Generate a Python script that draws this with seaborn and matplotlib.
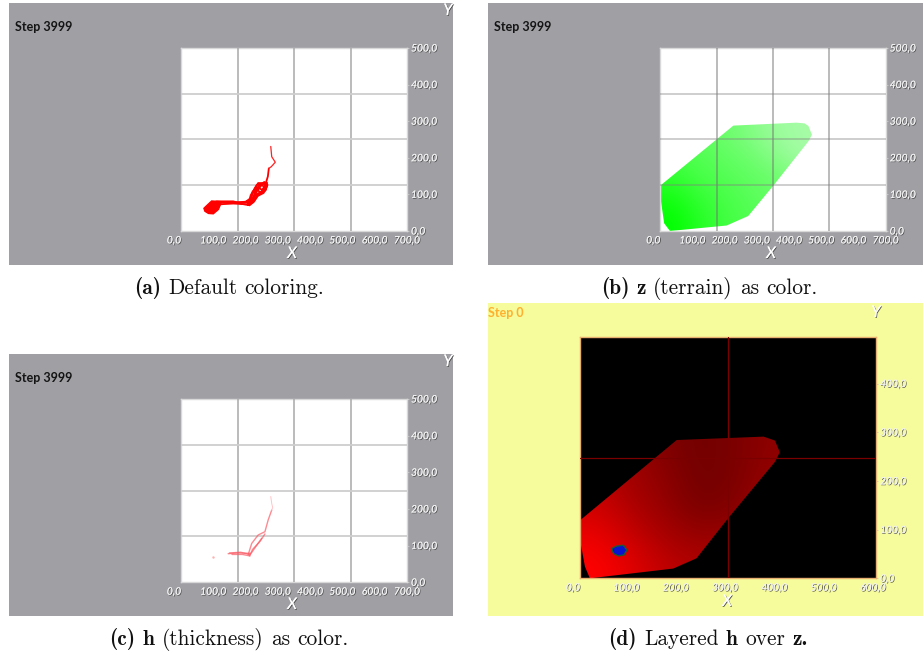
import matplotlib as mpl
mpl.use('Agg')
import matplotlib.pyplot as plt
import matplotlib.patheffects as pe
from matplotlib.transforms import ScaledTranslation
import numpy as np
import pandas as pd
import seaborn as sns

W, H = 923, 656

x_ticks_700 = [0, 100, 200, 300, 400, 500, 600, 700]
y_ticks_500 = [0, 100, 200, 300, 400, 500]
x_ticks_600 = [0, 100, 200, 300, 400, 500, 600]
y_ticks_400 = [0, 100, 200, 300, 400]
grid_x = [175, 350, 525]
grid_y = [125, 250, 375]
cross_x = [300]
cross_y = [247]

# lava flow strands, panel (a)
flow_a = {
    'main': ([272, 269, 261, 255, 240, 224, 214, 198, 162, 121, 100, 85],
             [171, 149, 126, 112, 103, 94, 80, 78, 78, 78, 78, 62]),
    'loop': ([209, 216, 235, 255, 266, 261, 240, 224, 209, 188, 162, 111, 92],
             [76, 98, 126, 130, 121, 110, 101, 85, 71, 74, 81, 81, 76]),
    'side': ([100, 162, 204, 224, 230, 245, 266, 262, 246, 232],
             [72, 75, 73, 87, 112, 126, 132, 112, 104, 118]),
    'side2': ([106, 150, 200, 217, 222, 240, 252, 262],
              [79, 77, 80, 90, 108, 118, 112, 128]),
    'side3': ([205, 222, 228, 240, 258, 268, 256, 238, 226, 212],
              [82, 84, 100, 122, 134, 126, 104, 96, 80, 70]),
    'outer': ([208, 229, 239, 266, 263, 238, 223, 208],
              [71, 117, 131, 131, 115, 98, 79, 71]),
    'inner': ([223, 236, 250, 258, 250, 236],
              [84, 110, 126, 120, 108, 96]),
}
flow_a_tip_x = [278, 281, 292, 280, 272]
flow_a_tip_y = [231, 203, 188, 176, 171]
blob_a_x = [71, 78, 95, 125, 122, 116, 100, 85, 74]
blob_a_y = [62, 68, 82, 80, 72, 59, 47, 48, 54]

# thickness strands, panel (c)
flow_c = {
    'main': ([281, 270, 260, 239, 219, 208], [197, 170, 138, 129, 106, 75]),
    'band1': ([146, 175, 214], [78, 80, 79]),
    'band2': ([158, 190, 214], [76, 76, 72]),
    'band3': ([150, 185, 212], [80, 82, 76]),
    'loop': ([250, 229, 214], [120, 94, 75]),
    'loop2': ([260, 245, 222, 212], [132, 112, 90, 72]),
}
flow_c_tip_x = [278, 281, 284, 281]
flow_c_tip_y = [234, 215, 204, 197]
dot_c_x = [100]
dot_c_y = [68]

# terrain outline and shading, panel (b)
terrain_x = [0, 227, 423, 448, 460, 471, 460, 351, 273, 206, 30, 12, 0]
terrain_y = [124, 288, 296, 294, 287, 263, 245, 124, 41, 15, 0, 21, 94]
terrain_shade = [
    [0.00, 0.22, 0.40, 0.50, 0.60, 0.70],
    [0.12, 0.32, 0.45, 0.55, 0.62, 0.75],
    [0.30, 0.45, 0.52, 0.60, 0.66, 0.82],
    [0.45, 0.52, 0.60, 0.68, 0.85, 1.00],
    [0.55, 0.58, 0.66, 0.80, 0.95, 1.00],
]

# outline and shading, panel (d)
layered_x = [0, 196, 372, 395, 405, 395, 300, 236, 189, 20, 10, 0]
layered_y = [119, 284, 291, 283, 259, 239, 123, 41, 20, 0, 24, 79]
layered_shade = [
    [0.00, 0.18, 0.40, 0.50, 0.50, 0.40],
    [0.12, 0.35, 0.55, 0.70, 0.65, 0.50],
    [0.30, 0.50, 0.70, 0.90, 0.85, 0.60],
    [0.40, 0.60, 0.75, 0.95, 0.90, 0.70],
    [0.45, 0.65, 0.85, 0.95, 0.90, 0.75],
]
blue_x = [64, 74, 88, 95, 89, 78, 68]
blue_y = [61, 66, 68, 58, 48, 46, 51]

# caption words as (word, bold)
cap_a = [('(a)', True), ('Default', False), ('coloring.', False)]
cap_b = [('(b)', True), ('z', True), ('(terrain)', False), ('as', False), ('color.', False)]
cap_c = [('(c)', True), ('h', True), ('(thickness)', False), ('as', False), ('color.', False)]
cap_d = [('(d)', True), ('Layered', False), ('h', True), ('over', False), ('z.', True)]

GRAY = '#a09fa4'
YELLOW = '#f6fb9b'

sns.set_theme(style='white')
plt.rcParams['font.family'] = ['Lato', 'DejaVu Sans']

fig = plt.figure(figsize=(W / 100, H / 100), dpi=100, facecolor='white')


def px_axes(x0, y0, x1, y1, **kw):
    return fig.add_axes([x0 / W, 1 - y1 / H, (x1 - x0) / W, (y1 - y0) / H], **kw)


def px_text(x, y, s, **kw):
    return fig.text(x / W, 1 - y / H, s, **kw)


def caption(words, xc, y, size=15.4, gap=7.2):
    parts = [px_text(0, y, w, fontsize=size, family='cmb10' if b else 'cmr10', color='#111111', va='baseline')
             for w, b in words]
    rend = fig.canvas.get_renderer()
    widths = [p.get_window_extent(rend).width for p in parts]
    x = xc - (sum(widths) + gap * (len(parts) - 1)) / 2
    for p, w in zip(parts, widths):
        p.set_x(x / W)
        x += w + gap


shadow = [pe.withSimplePatchShadow(offset=(0.6, -0.6), shadow_rgbFace=(0.25, 0.25, 0.25), alpha=0.85), pe.Normal()]


def panel(box, plot, xticks, yticks, bg, step, step_col, x_pos, y_pos=None, facecolor='white', border='#d8d8d8', shift=0):
    back = px_axes(*box, facecolor=bg)
    back.set_xticks([])
    back.set_yticks([])
    sns.despine(ax=back, left=True, bottom=True)

    ax = px_axes(*plot, facecolor=facecolor)
    ax.set_xlim(xticks[0], xticks[-1])
    ax.set_xticks(xticks)
    ax.set_xticklabels([f'{v},0' for v in xticks], fontsize=7.4, style='italic', color='#f2f2f2')
    ax.yaxis.tick_right()
    ax.set_yticks(yticks)
    ax.set_yticklabels([f'{v},0' for v in yticks], fontsize=7.4, style='italic', color='#f2f2f2')
    ax.tick_params(axis='x', length=1.5, width=0.6, color='#c8c8c8', pad=2.4)
    ax.tick_params(axis='y', length=1.5, width=0.6, color='#c8c8c8', pad=1.4)
    for lab in ax.get_xticklabels() + ax.get_yticklabels():
        lab.set_path_effects(shadow)
    for i, lab in enumerate(ax.get_xticklabels()):
        dx = -7 if i == 0 else shift
        lab.set_transform(lab.get_transform() + ScaledTranslation(dx / 100, 0, fig.dpi_scale_trans))
    for s in ax.spines.values():
        s.set_visible(True)
        s.set_color(border)
        s.set_linewidth(1.0)

    px_text(box[0] + (6 if bg == GRAY else 0), step[0], step[1], fontsize=step[2], fontweight='bold',
            color=step_col, va='center', ha='left')
    px_text(x_pos[0], x_pos[1], 'X', fontsize=11.5, style='italic', color='white', ha='center', va='center',
            path_effects=shadow)
    if y_pos is not None:
        px_text(y_pos[0], y_pos[1], 'Y', fontsize=11.5, style='italic', color='white', ha='center', va='center',
                path_effects=shadow)
    return ax


def grid_lines(ax, xs, ys, color, lw=1.0, alpha=1.0):
    for v in xs:
        ax.axvline(v, color=color, lw=lw, alpha=alpha, zorder=5)
    for v in ys:
        ax.axhline(v, color=color, lw=lw, alpha=alpha, zorder=5)


def strands(ax, flows, color, lw, alpha):
    for name, (xs, ys) in flows.items():
        df = pd.DataFrame({'x': xs, 'y': ys})
        sns.lineplot(data=df, x='x', y='y', sort=False, estimator=None, color=color, lw=lw, alpha=alpha, ax=ax,
                     zorder=6)
    ax.set_xlabel('')
    ax.set_ylabel('')


def shaded_poly(ax, xs, ys, shade, cmap, extent):
    im = ax.imshow(np.array(shade), cmap=cmap, vmin=0, vmax=1, origin='lower', extent=extent,
                   interpolation='bicubic', aspect='auto', zorder=2)
    poly = ax.fill(xs, ys, facecolor='none', edgecolor='none', zorder=1)[0]
    im.set_clip_path(poly)


# (a) default coloring
ax = panel((9, 3, 453, 265), (181, 48, 407, 231), x_ticks_700, y_ticks_500, GRAY,
           (27, 'Step 3999', 9), '#141414', (292, 254), (448, 11))
grid_lines(ax, grid_x, [], '#a8a8a8', lw=1.1)
grid_lines(ax, [], grid_y, '#cecece', lw=1.3)
ax.fill(blob_a_x, blob_a_y, color='#ff0000', zorder=6)
strands(ax, flow_a, '#ff0000', 1.3, 1.0)
ax.plot(flow_a_tip_x, flow_a_tip_y, color='#ff2020', lw=0.9, zorder=6)
ax.set_xlim(0, 700)
ax.set_ylim(0, 500)

# (b) terrain
ax = panel((488, 3, 923, 265), (660.3, 48, 885.7, 231), x_ticks_700, y_ticks_500, GRAY,
           (27, 'Step 3999', 9), '#141414', (771, 254))
green = sns.blend_palette(['#00ff00', '#50ff50', '#a6fca6'], as_cmap=True)
shaded_poly(ax, terrain_x, terrain_y, terrain_shade, green, (0, 480, 0, 300))
grid_lines(ax, grid_x, [], '#707070', lw=1.1, alpha=0.6)
grid_lines(ax, [], grid_y, '#808080', lw=1.2, alpha=0.45)
ax.set_xlim(0, 700)
ax.set_ylim(0, 500)

# (c) thickness
ax = panel((9, 354, 453, 616), (181, 399, 407, 582.3), x_ticks_700, y_ticks_500, GRAY,
           (378, 'Step 3999', 9), '#141414', (292, 605), (448, 362))
grid_lines(ax, grid_x, [], '#a8a8a8', lw=1.1)
grid_lines(ax, [], grid_y, '#cecece', lw=1.3)
strands(ax, flow_c, '#fa5a64', 1.0, 0.7)
ax.plot(flow_c_tip_x, flow_c_tip_y, color='#ffc4c8', lw=0.7, zorder=6)
sns.scatterplot(x=dot_c_x, y=dot_c_y, color='#ffb0b0', s=3, linewidth=0, ax=ax)
ax.set_xlim(0, 700)
ax.set_ylim(0, 500)

# (d) layered
ax = panel((488, 303, 923, 616), (580, 337.3, 876, 578.3), x_ticks_600, y_ticks_400, YELLOW,
           (313, 'Step 0', 9), '#ffb02e', (727, 602), (876, 313), facecolor='black', border='#e8b070', shift=-3)
reds = sns.blend_palette(['#ff0000', '#b00000', '#6c0000'], as_cmap=True)
shaded_poly(ax, layered_x, layered_y, layered_shade, reds, (0, 410, 0, 295))
grid_lines(ax, cross_x, cross_y, '#7a0000', lw=0.9)
ax.fill(blue_x, blue_y, facecolor='#0814d0', edgecolor='#1a5a3a', lw=1.0, zorder=6)
ax.set_xlim(0, 600)
ax.set_ylim(0, 495)

caption(cap_a, 229, 294)
caption(cap_b, 709, 294)
caption(cap_c, 229, 645)
caption(cap_d, 708, 645)

fig.savefig('out.png', dpi=100)
